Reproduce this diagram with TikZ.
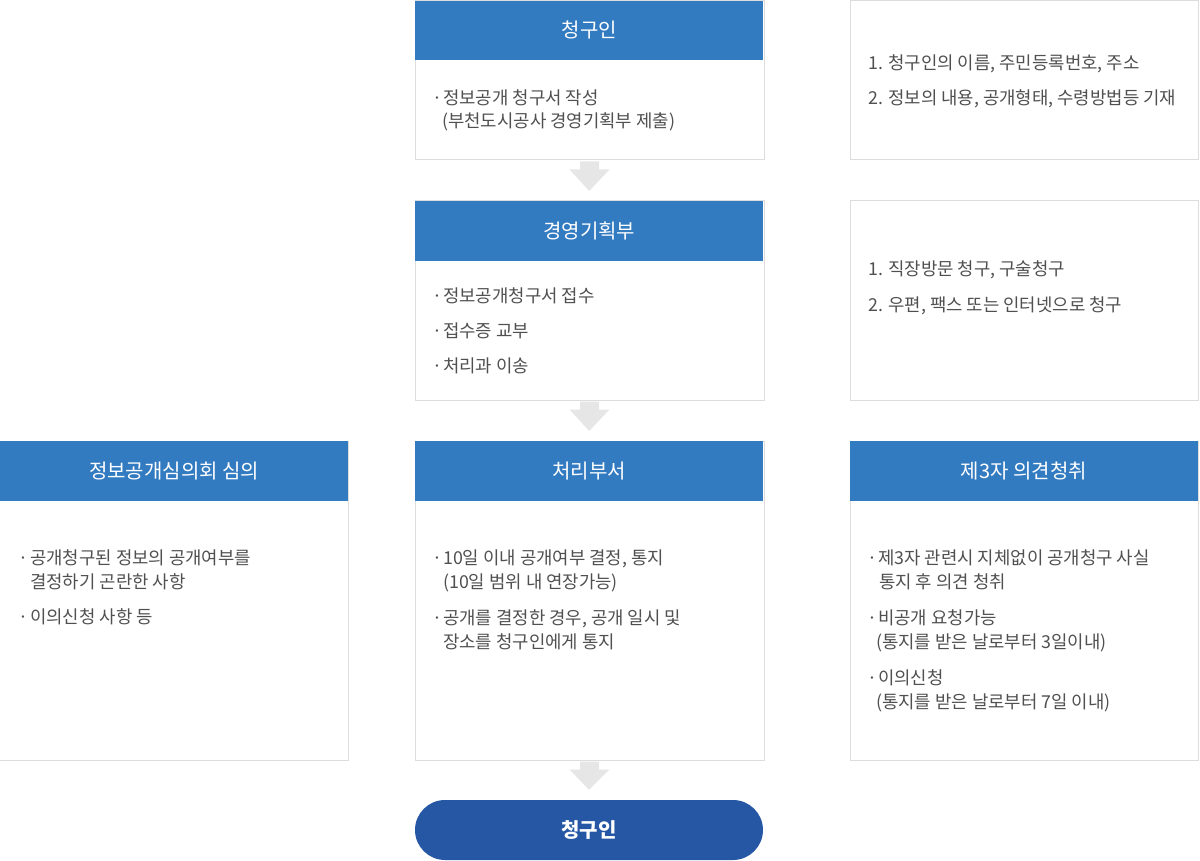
\documentclass[tikz,border=0pt]{standalone}
\usepackage{fontspec}
\setmainfont{Noto Sans CJK KR}
\usetikzlibrary{calc}
\definecolor{hblue}{HTML}{337BC1}
\definecolor{pblue}{HTML}{2557A5}
\definecolor{bgrey}{HTML}{DDDDDD}
\definecolor{agrey}{HTML}{E6E6E6}
\definecolor{tgrey}{HTML}{505050}
\tikzset{
  boxline/.style={draw=bgrey, line width=1pt, fill=white},
  hdr/.style={fill=hblue, text=white, inner sep=0pt, font=\fontsize{20}{22}\selectfont},
  txt/.style={anchor=west, inner sep=0pt, yshift=-3.5pt, text=tgrey, text height=0.84em, text depth=0.08em, font=\fontsize{17.8}{20}\selectfont},
  pill/.style={fill=pblue, text=white, rounded corners=30pt, minimum width=348pt, minimum height=60pt, inner sep=0pt, font=\bfseries\fontsize{20}{22}\selectfont},
  flowarrow/.style={fill=agrey}
}
\begin{document}
\begin{tikzpicture}[x=1pt,y=-1pt]
\useasboundingbox (0,0) rectangle (1200,861);
% ---------- row 1 ----------
\node[boxline, anchor=north west, minimum width=349pt, minimum height=159pt] (b1) at (414.5,0.5) {};
\node[hdr, anchor=north west, minimum width=348pt, minimum height=59.5pt] (h1) at (415,0.5) {청구인};
\node[txt] (m1d) at (432,97) {·};
\node[txt] (m1a) at (443,97) {정보공개 청구서 작성};
\node[txt] (m1b) at (442,120) {(부천도시공사 경영기획부 제출)};
\node[boxline, anchor=north west, minimum width=348.5pt, minimum height=158.5pt] (r1) at (849.5,0.5) {};
\node[txt] (r1a) at (868,62) {1. 청구인의 이름, 주민등록번호, 주소};
\node[txt] (r1b) at (868,97) {2. 정보의 내용, 공개형태, 수령방법등 기재};
% ---------- row 2 ----------
\node[boxline, anchor=north west, minimum width=349pt, minimum height=199pt] (b2) at (414.5,200.5) {};
\node[hdr, anchor=north west, minimum width=348pt, minimum height=59.5pt] (h2) at (415,201) {경영기획부};
\node[txt] (m2d1) at (432,295) {·};
\node[txt] (m2a) at (443,295) {정보공개청구서 접수};
\node[txt] (m2d2) at (432,330) {·};
\node[txt] (m2b) at (443,330) {접수증 교부};
\node[txt] (m2d3) at (432,365) {·};
\node[txt] (m2c) at (443,365) {처리과 이송};
\node[boxline, anchor=north west, minimum width=348.5pt, minimum height=199pt] (r2) at (849.5,200.5) {};
\node[txt] (r2a) at (868,268) {1. 직장방문 청구, 구술청구};
\node[txt] (r2b) at (868,304) {2. 우편, 팩스 또는 인터넷으로 청구};
% ---------- row 3 ----------
\node[boxline, anchor=north west, minimum width=350pt, minimum height=319pt] (l3) at (-2,440.5) {};
\node[hdr, anchor=north west, minimum width=348pt, minimum height=59.5pt] (hl3) at (0,441) {정보공개심의회 심의};
\node[txt] (l3d1) at (18,557) {·};
\node[txt] (l3a) at (30,557) {공개청구된 정보의 공개여부를};
\node[txt] (l3b) at (30,581) {결정하기 곤란한 사항};
\node[txt] (l3d2) at (18,616) {·};
\node[txt] (l3c) at (30,616) {이의신청 사항 등};
\node[boxline, anchor=north west, minimum width=349pt, minimum height=319pt] (b3) at (414.5,440.5) {};
\node[hdr, anchor=north west, minimum width=348pt, minimum height=59.5pt] (h3) at (415,441) {처리부서};
\node[txt] (m3d1) at (432,557) {·};
\node[txt] (m3a) at (443,557) {10일 이내 공개여부 결정, 통지};
\node[txt] (m3b) at (443,581) {(10일 범위 내 연장가능)};
\node[txt] (m3d2) at (432,617) {·};
\node[txt] (m3c) at (443,617) {공개를 결정한 경우, 공개 일시 및};
\node[txt] (m3e) at (443,641) {장소를 청구인에게 통지};
\node[boxline, anchor=north west, minimum width=348.5pt, minimum height=319pt] (r3) at (849.5,440.5) {};
\node[hdr, anchor=north west, minimum width=347.5pt, minimum height=59.5pt] (hr3) at (850,441) {제3자 의견청취};
\node[txt] (r3d1) at (867,557) {·};
\node[txt] (r3a) at (878,557) {제3자 관련시 지체없이 공개청구 사실};
\node[txt] (r3b) at (879,581) {통지 후 의견 청취};
\node[txt] (r3d2) at (867,617) {·};
\node[txt] (r3c) at (878,617) {비공개 요청가능};
\node[txt] (r3e) at (876,641) {(통지를 받은 날로부터 3일이내)};
\node[txt] (r3d3) at (867,677) {·};
\node[txt] (r3f) at (878,677) {이의신청};
\node[txt] (r3g) at (876,701) {(통지를 받은 날로부터 7일 이내)};
% ---------- end ----------
\node[pill] (end) at (589,830) {청구인};
% ---------- arrows ----------
\foreach \a/\b in {b1/h2, b2/h3, b3/end} {
  \fill[flowarrow] ($(\a.south)+(-9.5,1)$) -- ($(\a.south)+(9.5,1)$) -- ($(\a.south)+(9.5,9)$)
    -- ($(\a.south)+(20,9)$) -- ($(\b.north)+(0,-10)$) -- ($(\a.south)+(-20,9)$)
    -- ($(\a.south)+(-9.5,9)$) -- cycle;
}
\end{tikzpicture}
\end{document}
